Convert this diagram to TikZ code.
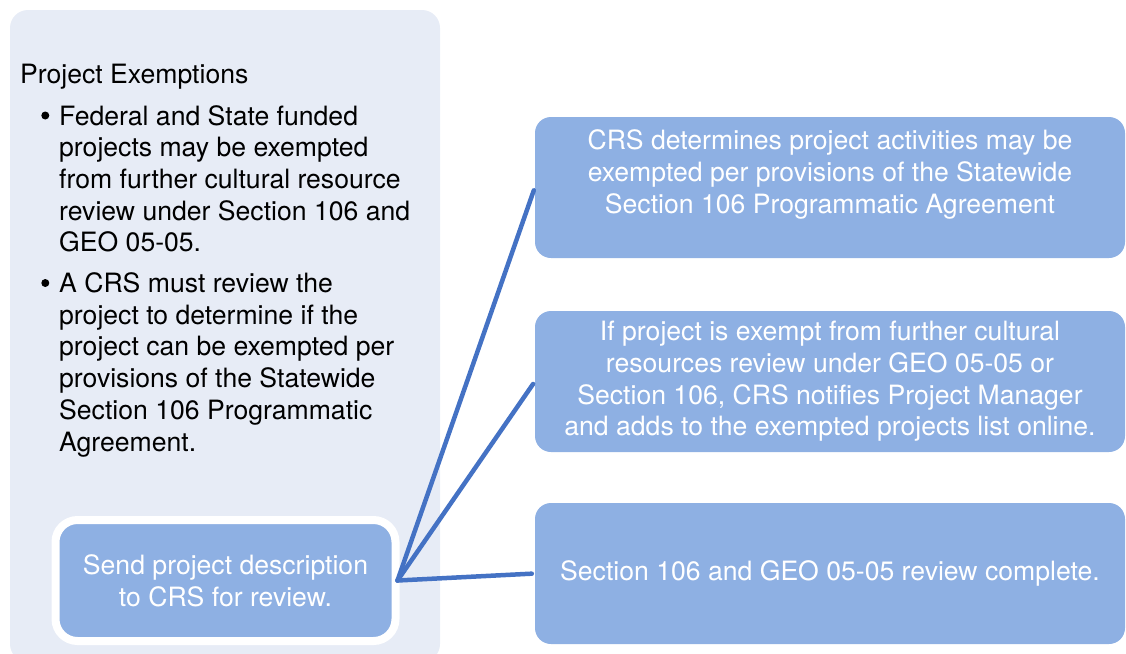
\documentclass[tikz,border=0pt]{standalone}
\usepackage{fontspec}
\setmainfont{TeX Gyre Heros}
\usetikzlibrary{positioning,calc}
\definecolor{panelblue}{HTML}{E7ECF6}
\definecolor{boxblue}{HTML}{8EB0E3}
\definecolor{linkblue}{HTML}{4472C4}
\tikzset{
  figfont/.style={font=\fontsize{26.6}{31.7}\selectfont},
  figpanel/.style={fill=panelblue, rounded corners=18pt},
  figtext/.style={align=left, anchor=north west, inner sep=0pt, text=black},
  figbox/.style={fill=boxblue, rounded corners=16pt, align=center, text=white, inner sep=0pt, minimum width=590pt, minimum height=141pt},
  figsendbox/.style={figbox, draw=white, line width=8pt, rounded corners=22pt, minimum width=340pt, minimum height=121pt},
  figlink/.style={draw=linkblue, line width=4.5pt, line cap=round, shorten >=3pt},
}

\begin{document}
\begin{tikzpicture}[x=1pt, y=-1pt, figfont]
			\useasboundingbox (0,0) rectangle (1126,653);

			% Left panel with the exemption notes
			\fill[figpanel] (10,10) rectangle (440,662);
			\node[figtext] (title) at (20,64) {Project Exemptions};
			\node[figtext] (fedstate) at (59,105)
			{Federal and State funded\\ projects may be exempted\\ from further cultural resource\\ review under Section 106 and\\ GEO 05-05.};
			\node[figtext] (crsreview) at (59,272.5)
			{A CRS must review the\\ project to determine if the\\ project can be exempted per\\ provisions of the Statewide\\ Section 106 Programmatic\\ Agreement.};
			\fill (45.3,115.5) circle (4pt);
			\fill (45.3,283) circle (4pt);

			% Start step inside the panel
			\node[figsendbox] (send) at (225.5,580.5)
			{Send project description\\ to CRS for review.};

			% Three outcome boxes on the right
			\node[figbox] (determine) at (830,187.5)
			{CRS determines project activities may be\\ exempted per provisions of the Statewide\\ Section 106 Programmatic Agreement\\ ~};
			\node[figbox] (notify) at (830,381.5)
			{If project is exempt from further cultural\\ resources review under GEO 05-05 or\\ Section 106, CRS notifies Project Manager\\ and adds to the exempted projects list online.};
			\node[figbox] (complete) at (830,573.5)
			{Section 106 and GEO 05-05 review complete.};

			% Connectors from the start step
			\draw[figlink] ([xshift=-2pt]send.east) -- (determine.west);
			\draw[figlink] ([xshift=-2pt]send.east) -- (notify.west);
			\draw[figlink] ([xshift=-2pt]send.east) -- (complete.west);
\end{tikzpicture}
\end{document}
